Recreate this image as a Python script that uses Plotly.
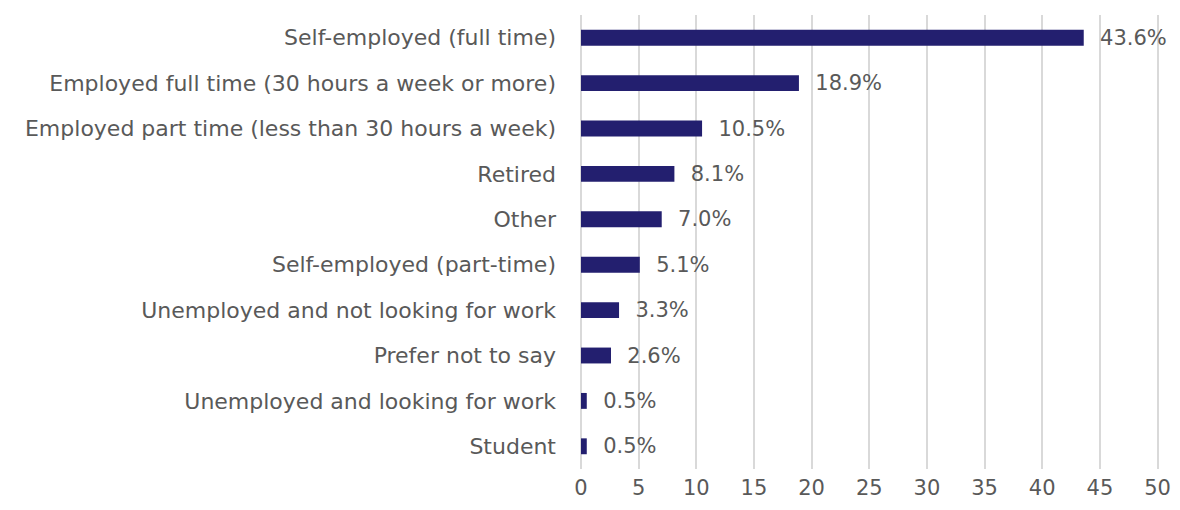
import plotly.graph_objects as go

categories = [
    "Self-employed (full time)",
    "Employed full time (30 hours a week or more)",
    "Employed part time (less than 30 hours a week)",
    "Retired",
    "Other",
    "Self-employed (part-time)",
    "Unemployed and not looking for work",
    "Prefer not to say",
    "Unemployed and looking for work",
    "Student",
]
values = [43.6, 18.9, 10.5, 8.1, 7.0, 5.1, 3.3, 2.6, 0.5, 0.5]
x_ticks = [0, 5, 10, 15, 20, 25, 30, 35, 40, 45, 50]

FONT = "DejaVu Sans"
TEXT = "#595959"
GRID = "#D9D9D9"

fig = go.Figure(go.Bar(
    y=categories,
    x=values,
    orientation='h',
    width=0.35,
    marker_color='#231F6F',
    marker_line_width=0,
    text=[f"  {v:.1f}%" for v in values],
    textposition='outside',
    constraintext='none',
    textfont=dict(family=FONT, size=21, color=TEXT),
    cliponaxis=False,
))

# the page body adds an 8px margin on each side, so the figure is sized smaller
fig.update_layout(
    width=1164,
    height=494,
    margin=dict(l=573, r=11, t=7, b=33),
    plot_bgcolor='white',
    paper_bgcolor='white',
    showlegend=False,
    font=dict(family=FONT, size=21, color=TEXT),
)
# range a bit past 50 so the last gridline is still drawn
fig.update_xaxes(
    range=[0, 50.3],
    tickvals=x_ticks,
    showgrid=True,
    gridcolor=GRID,
    gridwidth=2,
    zeroline=True,
    zerolinecolor=GRID,
    zerolinewidth=2,
    showline=False,
    automargin=False,
    ticklabeloverflow='allow',
    tickfont=dict(family=FONT, size=21, color=TEXT),
    ticklabelstandoff=4,
)
fig.update_yaxes(
    autorange='reversed',
    showgrid=False,
    showline=False,
    ticks='',
    automargin=False,
    ticklabelstandoff=24,
    tickfont=dict(family=FONT, size=22, color=TEXT),
)

fig.write_html("out.html")
